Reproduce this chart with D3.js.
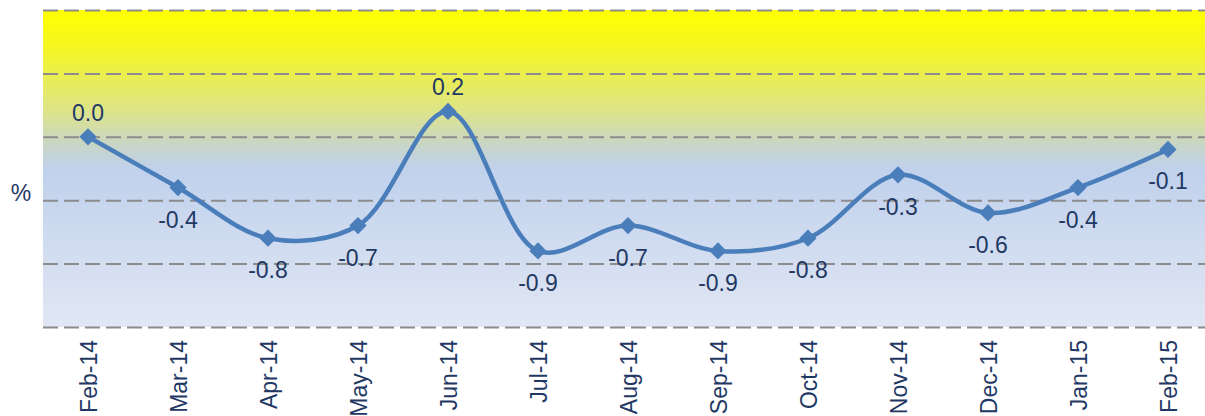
<!DOCTYPE html>
<html>
<head>
<meta charset="utf-8">
<script src="https://cdn.jsdelivr.net/npm/d3@7"></script>
<style>
  body { margin: 0; background: #fff; }
  svg { display: block; font-family: "Liberation Sans", Arial, sans-serif; }
</style>
</head>
<body>
<div id="chart"></div>
<script>
// monthly change, %
const months = ["Feb-14", "Mar-14", "Apr-14", "May-14", "Jun-14", "Jul-14", "Aug-14",
                "Sep-14", "Oct-14", "Nov-14", "Dec-14", "Jan-15", "Feb-15"];
const values = [0.0, -0.4, -0.8, -0.7, 0.2, -0.9, -0.7, -0.9, -0.8, -0.3, -0.6, -0.4, -0.1];
const gridTicks = [1.0, 0.5, 0.0, -0.5, -1.0, -1.5];
const labelAbove = ["Feb-14", "Jun-14"];

let W = 1205, H = 416;
let plot = { left: 43, right: 1213, top: 10, bottom: 327 };

let svg = d3.select("#chart").append("svg")
    .attr("width", W)
    .attr("height", H);

let x = d3.scalePoint()
    .domain(months)
    .range([plot.left, plot.right])
    .padding(0.5);
let y = d3.scaleLinear()
    .domain([-1.5, 1.0])
    .range([plot.bottom, plot.top]);

// background gradient: yellow on top, pale blue below
let defs = svg.append("defs");
let grad = defs.append("linearGradient")
    .attr("id", "bg").attr("x1", 0).attr("y1", 0).attr("x2", 0).attr("y2", 1);
[[0, "#ffff00"], [0.12, "#f4f623"], [0.32, "#dde48a"], [0.42, "#c9d6c4"],
 [0.5, "#c0d1ec"], [1, "#e1e7f4"]].forEach(function(s) {
    grad.append("stop").attr("offset", s[0]).attr("stop-color", s[1]);
});
svg.append("rect")
    .attr("x", plot.left).attr("y", plot.top)
    .attr("width", W - plot.left).attr("height", plot.bottom - plot.top)
    .attr("fill", "url(#bg)");

// dashed gridlines
svg.append("g")
    .attr("transform", "translate(" + plot.left + ",0)")
    .call(d3.axisLeft(y).tickValues(gridTicks).tickSize(-(W - plot.left)).tickFormat(""))
    .call(g => g.select(".domain").remove())
    .call(g => g.selectAll(".tick line")
        .attr("stroke", "#8c8c8c")
        .attr("stroke-width", 2)
        .attr("stroke-dasharray", "15,6"));

// x axis labels, rotated
let xa = svg.append("g")
    .attr("transform", "translate(0," + plot.bottom + ")")
    .call(d3.axisBottom(x).tickSize(0));
xa.select(".domain").remove();
xa.selectAll(".tick text")
    .attr("transform", "rotate(-90)")
    .attr("x", -13)
    .attr("y", 0)
    .attr("dy", "0.35em")
    .style("text-anchor", "end")
    .style("font-family", "Liberation Sans, Arial, sans-serif")
    .style("font-size", "23px")
    .style("fill", "#1f3864");

// "%" axis title
svg.append("text")
    .attr("x", 21).attr("y", 201)
    .attr("text-anchor", "middle")
    .style("font-size", "23px")
    .style("fill", "#1f3864")
    .text("%");

let pts = months.map(function(m, i) { return { m: m, v: values[i] }; });

let line = d3.line()
    .x(function(d) { return x(d.m); })
    .y(function(d) { return y(d.v); })
    .curve(d3.curveCatmullRom.alpha(0.5));

svg.append("path")
    .datum(pts)
    .attr("d", line)
    .attr("fill", "none")
    .attr("stroke", "#4a7ebb")
    .attr("stroke-width", 4.5)
    .attr("stroke-linejoin", "round");

svg.selectAll(".mark")
    .data(pts)
    .enter().append("path")
    .attr("class", "mark")
    .attr("d", d3.symbol().type(d3.symbolDiamond2).size(190))
    .attr("transform", function(d) { return "translate(" + x(d.m) + "," + y(d.v) + ")"; })
    .attr("fill", "#4a7ebb");

svg.selectAll(".lbl")
    .data(pts)
    .enter().append("text")
    .attr("class", "lbl")
    .attr("x", function(d) { return x(d.m); })
    .attr("y", function(d) { return labelAbove.includes(d.m) ? y(d.v) - 16 : y(d.v) + 40; })
    .attr("text-anchor", "middle")
    .style("font-size", "23px")
    .style("fill", "#1f3864")
    .text(function(d) { return d.v.toFixed(1); });
</script>
</body>
</html>
